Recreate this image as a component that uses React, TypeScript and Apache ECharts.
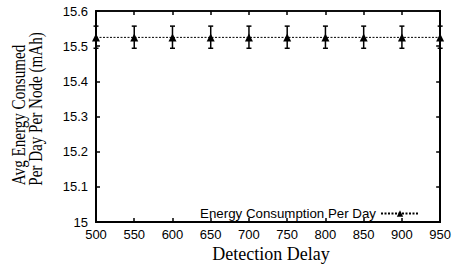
import React, { useEffect, useRef } from "react";
import * as echarts from "echarts";

const delays = [500, 550, 600, 650, 700, 750, 800, 850, 900, 950];
const energy = [15.525, 15.525, 15.525, 15.525, 15.525, 15.525, 15.525, 15.525, 15.525, 15.525];
const errLow = [15.494, 15.494, 15.494, 15.494, 15.494, 15.494, 15.494, 15.494, 15.494, 15.494];
const errHigh = [15.557, 15.557, 15.557, 15.557, 15.557, 15.557, 15.557, 15.557, 15.557, 15.557];
const seriesName = "Energy Consumption Per Day";
const xTitle = "Detection Delay";
const yTitle1 = "Avg Energy Consumed";
const yTitle2 = "Per Day Per Node (mAh)";

export default function App() {
  const ref = useRef<HTMLDivElement>(null);
  useEffect(() => {
    const chart = echarts.init(ref.current!, null, { renderer: "svg" });
    const labelFont = { fontFamily: "Liberation Sans", fontSize: 13, color: "#000" };
    const fmtY = (v: number) => String(Math.round(v * 10) / 10);
    chart.setOption({
      animation: false,
      backgroundColor: "#fff",
      grid: { left: 96, right: 13, top: 11, bottom: 48, show: true, borderColor: "#000", borderWidth: 1.5 },
      xAxis: [
        {
          type: "value", min: 500, max: 950, interval: 50,
          axisLine: { lineStyle: { color: "#000", width: 2 } },
          axisTick: { inside: true, length: 4, lineStyle: { color: "#000", width: 1.5 } },
          axisLabel: { ...labelFont, margin: 6 },
          splitLine: { show: false },
        },
        {
          type: "value", min: 500, max: 950, interval: 50, position: "top",
          axisLine: { lineStyle: { color: "#000", width: 1.5 } },
          axisTick: { inside: true, length: 4, lineStyle: { color: "#000", width: 1.5 } },
          axisLabel: { show: false },
          splitLine: { show: false },
        },
      ],
      yAxis: [
        {
          type: "value", min: 15, max: 15.6, interval: 0.1,
          axisLine: { show: true, lineStyle: { color: "#000", width: 2 } },
          axisTick: { show: true, inside: true, length: 4, lineStyle: { color: "#000", width: 1.5 } },
          axisLabel: { ...labelFont, margin: 8, formatter: fmtY },
          splitLine: { show: false },
        },
        {
          type: "value", min: 15, max: 15.6, interval: 0.1, position: "right",
          axisLine: { show: true, lineStyle: { color: "#000", width: 2 } },
          axisTick: { show: true, inside: true, length: 4, lineStyle: { color: "#000", width: 1.5 } },
          axisLabel: { show: false },
          splitLine: { show: false },
        },
      ],
      legend: {
        data: [seriesName],
        right: 29,
        top: 202,
        align: "right",
        itemWidth: 38,
        itemHeight: 8,
        textStyle: { fontFamily: "Liberation Sans", fontSize: 13.3, color: "#000" },
      },
      series: [
        {
          name: seriesName,
          type: "line",
          data: delays.map((d, i) => [d, energy[i]]),
          symbol: "triangle",
          symbolSize: 8,
          itemStyle: { color: "#000" },
          lineStyle: { color: "#000", width: 1, type: [2, 1.5] },
          z: 3,
        },
        {
          name: "err",
          type: "custom",
          data: delays.map((d, i) => [d, errLow[i], errHigh[i]]),
          renderItem: (params: any, api: any) => {
            const x = api.value(0);
            const lo = api.coord([x, api.value(1)]);
            const hi = api.coord([x, api.value(2)]);
            const w = 2.5;
            const style = { stroke: "#000", lineWidth: 1.5 };
            return {
              type: "group",
              children: [
                { type: "line", shape: { x1: lo[0], y1: lo[1], x2: hi[0], y2: hi[1] }, style },
                { type: "line", shape: { x1: lo[0] - w, y1: lo[1], x2: lo[0] + w, y2: lo[1] }, style },
                { type: "line", shape: { x1: hi[0] - w, y1: hi[1], x2: hi[0] + w, y2: hi[1] }, style },
              ],
            };
          },
          z: 2,
        },
      ],
      graphic: [
        {
          type: "text", x: 271, y: 254,
          style: { text: xTitle, fontFamily: "Liberation Serif", fontSize: 18, fill: "#000", align: "center", verticalAlign: "middle" },
        },
        {
          type: "text", x: 19, y: 115, rotation: Math.PI / 2, scaleX: 0.84,
          style: { text: yTitle1, fontFamily: "Liberation Serif", fontSize: 18, fill: "#000", align: "center", verticalAlign: "middle" },
        },
        {
          type: "text", x: 36, y: 109, rotation: Math.PI / 2, scaleX: 0.84,
          style: { text: yTitle2, fontFamily: "Liberation Serif", fontSize: 18, fill: "#000", align: "center", verticalAlign: "middle" },
        },
      ],
    });
    return () => chart.dispose();
  }, []);
  return <div ref={ref} style={{ width: 454, height: 270, position: "absolute", left: 0, top: 0 }} />;
}
